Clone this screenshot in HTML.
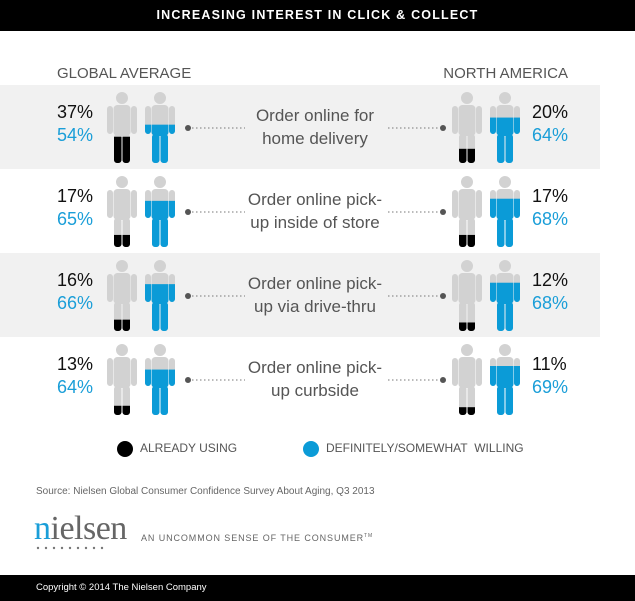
<!DOCTYPE html><html><head><style>
body{margin:0;width:635px;height:601px;background:#fff;font-family:"Liberation Sans",sans-serif;position:relative;overflow:hidden}
.a{position:absolute;white-space:nowrap}
</style></head><body>
<div class="a" style="left:0;top:0;width:635px;height:31px;background:#000;color:#fff;font-weight:bold;font-size:12.5px;letter-spacing:1.2px;text-align:center;line-height:31px">INCREASING INTEREST IN CLICK &amp; COLLECT</div>
<div class="a" style="left:57px;top:65px;font-size:15px;color:#555">GLOBAL AVERAGE</div>
<div class="a" style="right:67px;top:65px;font-size:15px;color:#555">NORTH AMERICA</div>
<svg class="a" style="left:0;top:0" width="635" height="601">
<defs>
<clipPath id="p"><circle cx="15" cy="6" r="6"/><rect x="6.5" y="13" width="17" height="31" rx="4"/><rect x="0" y="14" width="6" height="28" rx="3"/><rect x="24" y="14" width="6" height="28" rx="3"/><rect x="7" y="42" width="7.5" height="29" rx="3"/><rect x="15.5" y="42" width="7.5" height="29" rx="3"/></clipPath>
</defs>
<rect x="0" y="85" width="600" height="84" fill="#f1f1f1"/>
<rect x="0" y="253" width="600" height="84" fill="#f1f1f1"/>
<g id="rows"></g>
<g fill="#777"><circle cx="38" cy="548" r="1.2"/><circle cx="46" cy="548" r="1.2"/><circle cx="54" cy="548" r="1.2"/><circle cx="62" cy="548" r="1.2"/><circle cx="70" cy="548" r="1.2"/><circle cx="78" cy="548" r="1.2"/><circle cx="86" cy="548" r="1.2"/><circle cx="94" cy="548" r="1.2"/><circle cx="102" cy="548" r="1.2"/></g>
</svg>
<div id="t"></div>
<svg class="a" style="left:0;top:0" width="635" height="601">
<circle cx="125" cy="449" r="8" fill="#000"/><circle cx="311" cy="449" r="8" fill="#0b9bd7"/>
</svg>
<div class="a" style="left:140px;top:441px;font-size:12px;color:#555">ALREADY USING</div>
<div class="a" style="left:326px;top:441px;font-size:12px;color:#555">DEFINITELY/SOMEWHAT&nbsp; WILLING</div>
<div class="a" style="left:36px;top:486px;font-size:10px;color:#666">Source: Nielsen Global Consumer Confidence Survey About Aging, Q3 2013</div>
<div class="a" style="left:34px;top:510px;font-family:'Liberation Serif',serif;font-size:34px;color:#666;letter-spacing:-0.5px"><span style="color:#1a9ed8">n</span>ielsen</div>
<div class="a" style="left:141px;top:533px;font-size:9px;color:#666;letter-spacing:0.9px">AN UNCOMMON SENSE OF THE CONSUMER<sup style="font-size:5px">TM</sup></div>
<div class="a" style="left:0;top:575px;width:635px;height:26px;background:#000"></div>
<div class="a" style="left:36px;top:582px;font-size:9.5px;color:#fff">Copyright © 2014 The Nielsen Company</div>
<script>
var data=[[37,54,20,64,"Order online for","home delivery"],[17,65,17,68,"Order online pick-","up inside of store"],[16,66,12,68,"Order online pick-","up via drive-thru"],[13,64,11,69,"Order online pick-","up curbside"]];
var g=document.getElementById('rows'),t=document.getElementById('t'),s='',h='';
function person(x,y,pct,col){var f=71*pct/100;return '<g transform="translate('+x+','+y+')"><g clip-path="url(#p)"><rect width="30" height="71" fill="#d2d2d2"/><rect y="'+(71-f)+'" width="30" height="'+f+'" fill="'+col+'"/></g></g>';}
data.forEach(function(d,i){var y=92+i*84,c=128+i*84;
s+=person(107,y,d[0],'#000')+person(145,y,d[1],'#0b9bd7')+person(452,y,d[2],'#000')+person(490,y,d[3],'#0b9bd7');
s+='<circle cx="188" cy="'+c+'" r="3" fill="#555"/><line x1="192" y1="'+c+'" x2="245" y2="'+c+'" stroke="#777" stroke-dasharray="1.5,2.5"/>';
s+='<line x1="388" y1="'+c+'" x2="440" y2="'+c+'" stroke="#777" stroke-dasharray="1.5,2.5"/><circle cx="443" cy="'+c+'" r="3" fill="#555"/>';
h+='<div class="a" style="left:57px;top:'+(c-27)+'px;font-size:18px;line-height:23px;color:#111">'+d[0]+'%<br><span style="color:#1a9ed8">'+d[1]+'%</span></div>';
h+='<div class="a" style="left:532px;top:'+(c-27)+'px;font-size:18px;line-height:23px;color:#111">'+d[2]+'%<br><span style="color:#1a9ed8">'+d[3]+'%</span></div>';
h+='<div class="a" style="left:215px;width:200px;text-align:center;top:'+(c-24)+'px;font-size:17px;line-height:23px;color:#555">'+d[4]+'<br>'+d[5]+'</div>';});
g.innerHTML=s;t.innerHTML=h;
</script>
</body></html>
